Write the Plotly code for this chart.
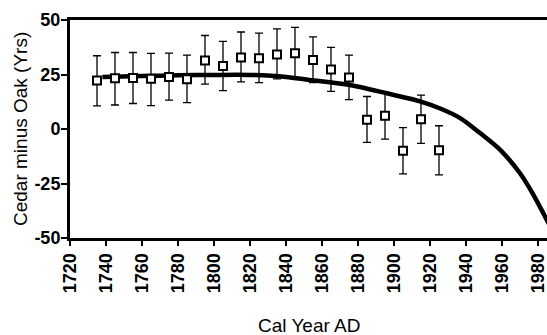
import plotly.graph_objects as go

# Data
years = [1735, 1745, 1755, 1765, 1775, 1785, 1795, 1805, 1815, 1825,
         1835, 1845, 1855, 1865, 1875, 1885, 1895, 1905, 1915, 1925]
diff = [22.3, 23.3, 23.4, 23.0, 23.8, 22.8, 31.4, 28.9, 32.8, 32.5,
        34.2, 34.8, 31.6, 27.3, 23.6, 4.3, 6.1, -10.0, 4.5, -9.8]
upper = [33.6, 35.1, 35.1, 34.7, 34.8, 33.9, 42.9, 40.2, 44.5, 44.0,
         45.9, 46.6, 42.3, 37.4, 33.9, 14.9, 16.7, 0.6, 15.5, 1.5]
lower = [10.6, 11.0, 11.7, 10.7, 13.2, 12.1, 20.6, 17.6, 21.6, 21.3,
         23.0, 23.3, 21.3, 17.3, 13.5, -6.1, -4.6, -20.6, -6.6, -21.0]

curve_years = [1738, 1760, 1780, 1800, 1820, 1840, 1853, 1874, 1896,
               1914, 1926, 1937, 1948, 1959, 1970, 1977, 1983, 1986]
curve_vals = [23.9, 24.3, 24.6, 24.8, 24.8, 23.9, 22.5, 20.4, 16.4,
              12.8, 9.3, 4.9, -2.0, -9.6, -20.3, -29.5, -38.7, -43.5]

x_ticks = list(range(1720, 1981, 20))
y_ticks = [-50, -25, 0, 25, 50]

x_title = "Cal Year AD"
y_title = "Cedar minus Oak (Yrs)"

err_plus = [u - d for u, d in zip(upper, diff)]
err_minus = [d - l for d, l in zip(diff, lower)]

fig = go.Figure()
fig.add_trace(go.Scatter(
    x=curve_years, y=curve_vals, mode="lines",
    line=dict(color="black", width=4.5, shape="spline", smoothing=0.8),
    showlegend=False, hoverinfo="skip"))
fig.add_trace(go.Scatter(
    x=years, y=diff, mode="markers",
    marker=dict(symbol="square", size=8, color="white",
                line=dict(color="black", width=2)),
    error_y=dict(type="data", array=err_plus, arrayminus=err_minus,
                 color="black", thickness=1.3, width=4),
    showlegend=False))

FAM = "Liberation Sans, Arial, sans-serif"
tickfont = dict(family=FAM, size=18, color="black")
titlefont = dict(family=FAM, size=19, color="black")

fig.update_layout(
    width=547, height=335,
    margin=dict(l=70, r=0, t=20, b=97, autoexpand=False),
    plot_bgcolor="white", paper_bgcolor="white",
    font=dict(family=FAM, color="black"),
    annotations=[
        dict(text=x_title, xref="paper", yref="paper", x=0.5, y=0,
             xanchor="center", yanchor="middle", yshift=-87,
             showarrow=False, font=titlefont),
        dict(text=y_title, xref="paper", yref="paper", x=0, y=0.5,
             xanchor="center", yanchor="middle", xshift=-50,
             textangle=-90, showarrow=False, font=titlefont),
    ],
)
fig.update_xaxes(
    range=[1720, 1985], tickvals=x_ticks,
    ticktext=["<b>%d</b>" % v for v in x_ticks],
    tickangle=-90, tickfont=tickfont, ticks="outside", ticklen=5,
    tickwidth=2, tickcolor="black", showline=True, linewidth=3,
    linecolor="black", mirror=True, showgrid=False, zeroline=False,
    automargin=False, ticklabeloverflow="allow",
)
fig.update_yaxes(
    range=[-50, 50], tickvals=y_ticks,
    ticktext=["<b>%d</b>" % v for v in y_ticks],
    tickfont=tickfont, ticks="outside", ticklen=6, tickwidth=2,
    tickcolor="black", showline=True, linewidth=3, linecolor="black",
    showgrid=False, zeroline=False, automargin=False,
    ticklabeloverflow="allow", ticklabelstandoff=-3,
)

fig.write_html(
    "out.html",
    config={"displayModeBar": False, "staticPlot": True},
    post_script="document.body.style.margin='0';"
                "document.documentElement.style.overflow='hidden';",
)
